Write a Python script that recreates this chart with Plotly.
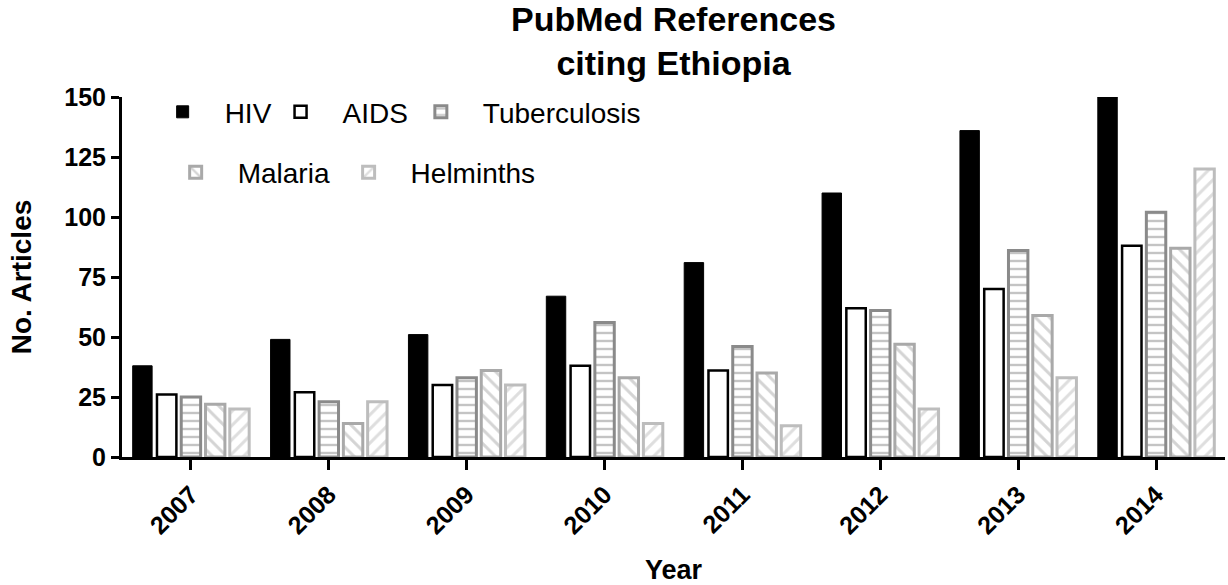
import plotly.graph_objects as go

years = ["2007", "2008", "2009", "2010", "2011", "2012", "2013", "2014"]
hiv = [38, 49, 51, 67, 81, 110, 136, 150]
aids = [26, 27, 30, 38, 36, 62, 70, 88]
tuberculosis = [25, 23, 33, 56, 46, 61, 86, 102]
malaria = [22, 14, 36, 33, 35, 47, 59, 87]
helminths = [20, 23, 30, 14, 13, 20, 33, 120]

FONT = "Arial, Liberation Sans, sans-serif"

fig = go.Figure()
fig.add_trace(go.Bar(name="HIV", x=years, y=hiv,
                     marker=dict(color="black", line=dict(color="black", width=1)),
                     legend="legend"))
fig.add_trace(go.Bar(name="AIDS", x=years, y=aids,
                     marker=dict(color="white", line=dict(color="black", width=2.5)),
                     legend="legend2"))
fig.add_trace(go.Bar(name="Tuberculosis", x=years, y=tuberculosis,
                     marker=dict(color="white", line=dict(color="#8a8a8a", width=3),
                                 pattern=dict(shape="-", fgcolor="#8a8a8a", bgcolor="white",
                                              size=8, solidity=0.3)),
                     legend="legend3"))
fig.add_trace(go.Bar(name="Malaria", x=years, y=malaria,
                     marker=dict(color="white", line=dict(color="#a9a9a9", width=3),
                                 pattern=dict(shape="\\", fgcolor="#a9a9a9", bgcolor="white",
                                              size=10, solidity=0.3)),
                     legend="legend4"))
fig.add_trace(go.Bar(name="Helminths", x=years, y=helminths,
                     marker=dict(color="white", line=dict(color="#bdbdbd", width=3),
                                 pattern=dict(shape="/", fgcolor="#bdbdbd", bgcolor="white",
                                              size=10, solidity=0.3)),
                     legend="legend5"))


def leg(x, y):
    return dict(orientation="h", x=x, y=y, xanchor="left", yanchor="middle",
                font=dict(size=28, family=FONT), bgcolor="rgba(0,0,0,0)",
                itemwidth=74)


fig.update_layout(
    width=1228, height=585,
    showlegend=True,
    margin=dict(l=122, r=3, t=97, b=128, autoexpand=False),
    paper_bgcolor="white", plot_bgcolor="white",
    font=dict(family=FONT, color="black"),
    barmode="group", bargap=0.12, bargroupgap=0.2,
    title=dict(text="<b>PubMed References<br>citing Ethiopia</b>",
               font=dict(size=34, family=FONT, color="black"),
               x=0.5, xref="paper", xanchor="center",
               y=0.947, yref="container", yanchor="top"),
    legend=leg(0.0169, 0.958),
    legend2=leg(0.1238, 0.958),
    legend3=leg(0.2510, 0.958),
    legend4=leg(0.0287, 0.79),
    legend5=leg(0.1855, 0.79),
    xaxis=dict(type="category", categoryorder="array", categoryarray=years,
               range=[-0.5, 7.5],
               showline=True, linecolor="black", linewidth=3,
               ticks="outside", ticklen=10, tickwidth=3, tickcolor="black",
               tickangle=-45, tickfont=dict(size=25, family=FONT),
               showgrid=False, zeroline=False,
               title=dict(text="<b>Year</b>", font=dict(size=27, family=FONT), standoff=25)),
    yaxis=dict(range=[0, 150], dtick=25, tick0=0,
               showline=True, linecolor="black", linewidth=3,
               ticks="outside", ticklen=8, tickwidth=3, tickcolor="black",
               tickfont=dict(size=25, family=FONT), tickprefix="<b>", ticksuffix="</b>",
               showgrid=False, zeroline=False,
               title=dict(text="<b>No. Articles</b>", font=dict(size=28, family=FONT), standoff=25)),
)
fig.update_xaxes(ticktext=["<b>%s</b>" % y for y in years], tickvals=years)

fig.write_html("out.html", config={"displayModeBar": False},
               post_script="document.body.style.margin='0px';document.body.style.overflow='hidden';")
